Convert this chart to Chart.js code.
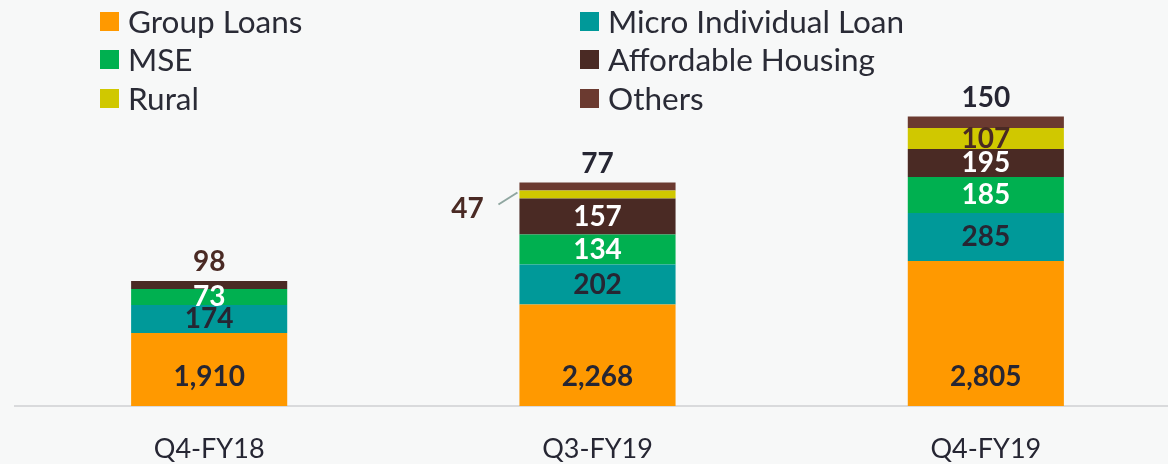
<!DOCTYPE html>
<html>
<head>
<meta charset="utf-8">
<script src="https://cdn.jsdelivr.net/npm/chart.js@4/dist/chart.umd.min.js"></script>
<style>
  html, body {
    margin: 0;
    padding: 0;
    background: #f7f8f8;
    overflow: hidden;
  }
  .wrap {
    position: relative;
    width: 1180px;
    height: 464px;
  }
  .legend {
    position: absolute;
    left: 100px;
    top: 2px;
    display: grid;
    grid-template-columns: 480px 480px;
    font-family: Lato, sans-serif;
    font-size: 31.5px;
    color: #2a2b36;
  }
  .legend-item {
    display: flex;
    align-items: center;
    height: 38.5px;
    line-height: 1;
  }
  .legend-box {
    width: 19px;
    height: 19px;
    margin-right: 9px;
    flex: none;
  }
</style>
</head>
<body>
<div class="wrap">
  <canvas id="mixChart"></canvas>
  <div class="legend" id="legend"></div>
</div>
<script>
// Categories
const categories = ['Q4-FY18', 'Q3-FY19', 'Q4-FY19'];

// Values printed on the segments
const groupLoans = [1910, 2268, 2805];
const microIndividualLoan = [174, 202, 285];
const mse = [73, 134, 185];
const affordableHousing = [98, 157, 195];
const rural = [null, 47, 107];
const others = [null, 77, 150];

// Segment sizes as drawn in the picture (the chart is not to scale)
const groupLoansSize = [73, 101.5, 145];
const microIndividualLoanSize = [28, 40, 48];
const mseSize = [16, 30, 36];
const affordableHousingSize = [8, 36, 28];
const ruralSize = [0, 8, 21];
const othersSize = [0, 8, 11.5];

const DARK = '#262633';
const BROWN_TEXT = '#4a2a24';

// label placement per series and category
const series = [
  { label: 'Group Loans', color: '#ff9900', values: groupLoans, sizes: groupLoansSize,
    place: ['bottom', 'bottom', 'bottom'], text: [DARK, DARK, DARK] },
  { label: 'Micro Individual Loan', color: '#009999', values: microIndividualLoan, sizes: microIndividualLoanSize,
    place: ['center', 'center', 'center'], text: [DARK, DARK, DARK] },
  { label: 'MSE', color: '#00b050', values: mse, sizes: mseSize,
    place: ['center', 'center', 'center'], text: ['#ffffff', '#ffffff', '#ffffff'] },
  { label: 'Affordable Housing', color: '#4a2a24', values: affordableHousing, sizes: affordableHousingSize,
    place: ['above', 'center', 'center'], text: [BROWN_TEXT, '#ffffff', '#ffffff'] },
  { label: 'Rural', color: '#d0c800', values: rural, sizes: ruralSize,
    place: [null, 'left', 'center'], text: [null, BROWN_TEXT, BROWN_TEXT] },
  { label: 'Others', color: '#6b3a30', values: others, sizes: othersSize,
    place: [null, 'above', 'above'], text: [null, DARK, DARK] }
];

// Draws the numbers on / above / beside the bars
const segmentLabels = {
  id: 'segmentLabels',
  afterDatasetsDraw(chart) {
    const ctx = chart.ctx;
    ctx.save();
    ctx.textAlign = 'center';
    ctx.textBaseline = 'middle';
    ctx.font = 'bold 28px Lato';
    series.forEach((s, i) => {
      const meta = chart.getDatasetMeta(i);
      meta.data.forEach((bar, j) => {
        const v = s.values[j];
        if (v == null) return;
        const txt = v.toLocaleString('en-US');
        ctx.fillStyle = s.text[j];
        const place = s.place[j];
        if (place === 'bottom') {
          ctx.fillText(txt, bar.x, bar.base - 29);
        } else if (place === 'center') {
          ctx.fillText(txt, bar.x, (bar.y + bar.base) / 2);
        } else if (place === 'above') {
          ctx.fillText(txt, bar.x, bar.y - 19);
        } else if (place === 'left') {
          const left = bar.x - bar.width / 2;
          ctx.fillText(txt, left - 52, bar.y + 18);
          ctx.strokeStyle = '#8fa6a0';
          ctx.lineWidth = 2;
          ctx.beginPath();
          ctx.moveTo(left - 21, bar.y + 14);
          ctx.lineTo(left - 2, bar.y + 2);
          ctx.stroke();
        }
      });
    });
    ctx.restore();
  }
};

const canvas = document.getElementById('mixChart');
const chart = new Chart(canvas.getContext('2d'), {
  type: 'bar',
  data: {
    labels: categories,
    datasets: series.map(s => ({
      label: s.label,
      data: s.sizes,
      backgroundColor: s.color,
      borderWidth: 0,
      categoryPercentage: 1,
      barPercentage: 0.402
    }))
  },
  options: {
    responsive: true,
    maintainAspectRatio: false,
    animation: false,
    layout: { padding: { left: 15, right: 0, top: 0, bottom: 0 } },
    plugins: {
      legend: { display: false },
      tooltip: { enabled: false }
    },
    scales: {
      x: {
        stacked: true,
        grid: { display: false, drawTicks: false },
        border: { display: true, color: '#d9dadc', width: 2 },
        ticks: {
          color: DARK,
          padding: 27,
          font: { family: 'Lato', size: 27 }
        },
        afterFit(scale) { scale.height = 58; }
      },
      y: {
        stacked: true,
        display: false,
        min: 0,
        max: 406
      }
    }
  },
  plugins: [segmentLabels]
});

// HTML legend in two columns, built from the datasets
const legend = document.getElementById('legend');
chart.data.datasets.forEach(ds => {
  const item = document.createElement('div');
  item.className = 'legend-item';
  const box = document.createElement('span');
  box.className = 'legend-box';
  box.style.background = ds.backgroundColor;
  const text = document.createElement('span');
  text.textContent = ds.label;
  item.appendChild(box);
  item.appendChild(text);
  legend.appendChild(item);
});
</script>
</body>
</html>
